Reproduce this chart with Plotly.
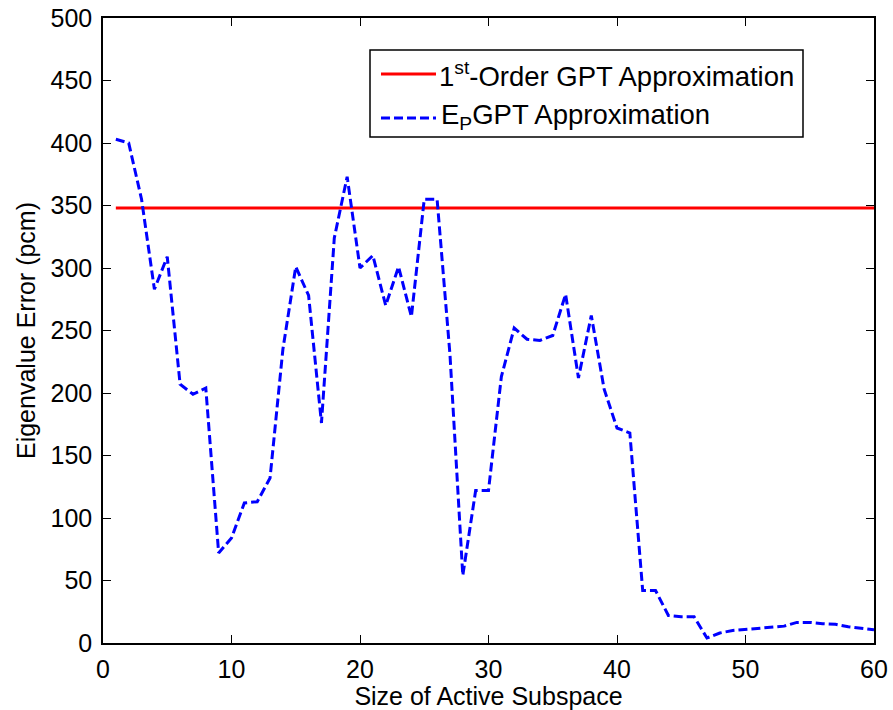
import plotly.graph_objects as go

# Size of the active subspace
subspace_size = list(range(1, 61))

# Eigenvalue error (pcm) of the E_P GPT approximation
ep_gpt_error = [
    403, 400, 355, 283, 309, 207, 199, 204, 72, 84,
    112, 113, 132, 235, 301, 278, 176, 324, 373, 300,
    310, 270, 301, 261, 355, 355, 231, 54, 122, 122,
    213, 252, 243, 242, 246, 279, 212, 262, 203, 172,
    168, 42, 42, 22, 21, 21, 4, 8, 10, 11,
    12, 13, 13.5, 16.5, 16.5, 15.5, 15, 13, 12, 10.5,
]

# Eigenvalue error (pcm) of the first-order GPT approximation (constant)
first_order_error = 348

x_ticks = [0, 10, 20, 30, 40, 50, 60]
y_ticks = [0, 50, 100, 150, 200, 250, 300, 350, 400, 450, 500]

legend_labels = ["1<sup>st</sup>-Order GPT Approximation",
                 "E<sub>P</sub>GPT Approximation"]

RED = "#ff0000"
BLUE = "#0000ff"
FONT = "Arial, Liberation Sans, Helvetica, sans-serif"

W, H = 893, 710
L, R, T, B = 103, 19, 18, 67
PW, PH = W - L - R, H - T - B


def px(xp):
    return (xp - L) / PW


def py(yp):
    return (H - B - yp) / PH


fig = go.Figure()

fig.add_trace(go.Scatter(
    x=[subspace_size[0], subspace_size[-1]],
    y=[first_order_error, first_order_error],
    mode="lines",
    line=dict(color=RED, width=3),
    name=legend_labels[0],
    showlegend=False,
))

fig.add_trace(go.Scatter(
    x=subspace_size,
    y=ep_gpt_error,
    mode="lines",
    line=dict(color=BLUE, width=3, dash="9px,4px"),
    name=legend_labels[1],
    showlegend=False,
))

# Boxed legend in the upper part of the axes
shapes = [
    dict(type="rect", xref="paper", yref="paper",
         x0=px(370), x1=px(803), y0=py(137), y1=py(50),
         line=dict(color="black", width=1.5), fillcolor="white", layer="above"),
    dict(type="line", xref="paper", yref="paper",
         x0=px(381), x1=px(436), y0=py(74), y1=py(74),
         line=dict(color=RED, width=3), layer="above"),
    dict(type="line", xref="paper", yref="paper",
         x0=px(381), x1=px(436), y0=py(118), y1=py(118),
         line=dict(color=BLUE, width=3, dash="9px,4px"), layer="above"),
]

annotations = [
    dict(xref="paper", yref="paper", x=px(437), y=py(75),
         xanchor="left", yanchor="middle", showarrow=False,
         text=legend_labels[0], font=dict(family=FONT, size=27.5, color="black")),
    dict(xref="paper", yref="paper", x=px(439), y=py(117),
         xanchor="left", yanchor="middle", showarrow=False,
         text=legend_labels[1], font=dict(family=FONT, size=27.5, color="black")),
]

axis_common = dict(
    showgrid=False,
    zeroline=False,
    showline=True,
    linecolor="black",
    linewidth=1.5,
    mirror="allticks",
    ticks="inside",
    ticklen=8,
    tickwidth=1,
    tickcolor="black",
    tickfont=dict(family=FONT, size=25, color="black"),
)

fig.update_layout(
    width=W,
    height=H,
    margin=dict(l=L, r=R, t=T, b=B, autoexpand=False),
    paper_bgcolor="white",
    plot_bgcolor="white",
    shapes=shapes,
    annotations=annotations,
    xaxis=dict(
        range=[0, 60],
        tickvals=x_ticks,
        ticktext=[str(v) for v in x_ticks],
        title=dict(text="Size of Active Subspace",
                   font=dict(family=FONT, size=25, color="black"), standoff=5),
        ticklabelstandoff=3,
        **axis_common,
    ),
    yaxis=dict(
        range=[0, 500],
        tickvals=y_ticks,
        ticktext=[str(v) for v in y_ticks],
        title=dict(text="Eigenvalue Error (pcm)",
                   font=dict(family=FONT, size=25, color="black"), standoff=8),
        ticklabelstandoff=4,
        **axis_common,
    ),
)

fig.write_html("out.html")
